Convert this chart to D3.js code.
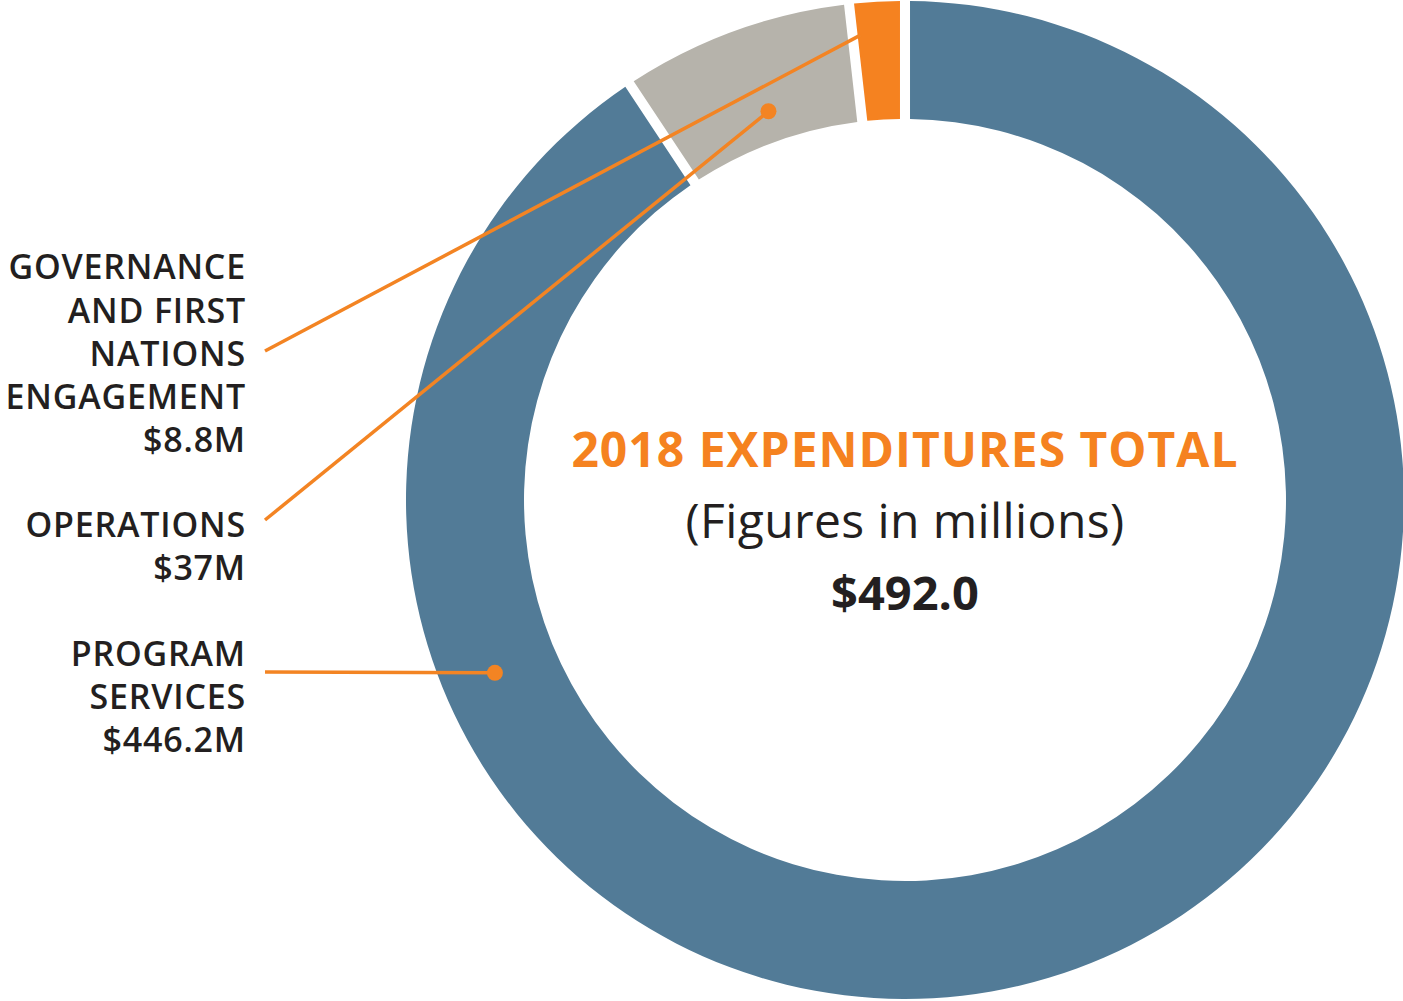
<!DOCTYPE html>
<meta charset="utf-8">
<head>
  <script src="https://d3js.org/d3.v7.min.js"></script>
  <style>
    body { margin: 0; background: #fff; font-family: "Open Sans", sans-serif; }
  </style>
</head>
<body>
<div id="my_dataviz"></div>
<script>
  // data, clockwise from 12 o'clock
  var categories = ["PROGRAM SERVICES", "OPERATIONS", "GOVERNANCE AND FIRST NATIONS ENGAGEMENT"];
  var values = [446.2, 37, 8.8];
  var colors = ["#527b97", "#b6b3ab", "#f58220"];
  var labelLines = [
    ["PROGRAM", "SERVICES", "$446.2M"],
    ["OPERATIONS", "$37M"],
    ["GOVERNANCE", "AND FIRST", "NATIONS", "ENGAGEMENT", "$8.8M"]
  ];
  var title = "2018 EXPENDITURES TOTAL";
  var subtitle = "(Figures in millions)";
  var totalLabel = "$492.0";

  var width = 1403, height = 1001;
  var cx = 905, cy = 500, outerR = 499, innerR = 381;

  var svg = d3.select("#my_dataviz")
    .append("svg")
      .attr("width", width)
      .attr("height", height);

  var g = svg.append("g")
    .attr("transform", "translate(" + cx + "," + cy + ")");

  var data = categories.map(function(c, i) { return {name: c, value: values[i], color: colors[i], lines: labelLines[i]}; });

  var pie = d3.pie()
    .sort(null)
    .value(function(d) { return d.value; });

  var arc = d3.arc()
    .innerRadius(innerR)
    .outerRadius(outerR)
    .padAngle(0.016);

  var arcs = pie(data);

  g.selectAll("path.slice")
    .data(arcs)
    .enter()
    .append("path")
      .attr("class", "slice")
      .attr("d", arc)
      .attr("fill", function(d) { return d.data.color; });

  // leader lines: anchor point on the ring (fraction along the slice, radius)
  var anchors = [
    {frac: 0.757, r: 445, labelY: 672, dot: true},
    {frac: 0.523, r: 412, labelY: 520, dot: true},
    {frac: 0.15, r: 467, labelY: 351, dot: false}
  ];
  var lineX = 265;
  var orange = "#f38423";

  arcs.forEach(function(a, i) {
    var an = anchors[i];
    var ang = a.startAngle + (a.endAngle - a.startAngle) * an.frac;
    var px = cx + an.r * Math.sin(ang);
    var py = cy - an.r * Math.cos(ang);
    svg.append("line")
      .attr("x1", lineX).attr("y1", an.labelY)
      .attr("x2", px).attr("y2", py)
      .attr("stroke", orange)
      .attr("stroke-width", 3.5);
    if (an.dot) {
      svg.append("circle")
        .attr("cx", px).attr("cy", py)
        .attr("r", 8)
        .attr("fill", orange);
    }
  });

  // labels on the left, right aligned
  var labelBaselines = [
    [666, 709, 752],
    [537, 580],
    [279, 323, 366, 409, 452]
  ];
  data.forEach(function(d, i) {
    var t = svg.append("text")
      .attr("text-anchor", "end")
      .attr("font-size", 34)
      .attr("font-weight", 600)
      .attr("letter-spacing", "0.8px")
      .attr("fill", "#231f20");
    d.lines.forEach(function(line, j) {
      t.append("tspan")
        .attr("x", 246)
        .attr("y", labelBaselines[i][j])
        .text(line);
    });
  });

  // centre text
  svg.append("text")
    .attr("x", cx).attr("y", 467)
    .attr("text-anchor", "middle")
    .attr("font-size", 48)
    .attr("font-weight", 700)
    .attr("letter-spacing", "1px")
    .attr("fill", "#f58220")
    .text(title);

  svg.append("text")
    .attr("x", cx).attr("y", 538)
    .attr("text-anchor", "middle")
    .attr("font-size", 48)
    .attr("font-weight", 400)
    .attr("letter-spacing", "0.4px")
    .attr("fill", "#231f20")
    .text(subtitle);

  svg.append("text")
    .attr("x", cx).attr("y", 610)
    .attr("text-anchor", "middle")
    .attr("font-size", 47)
    .attr("font-weight", 700)
    .attr("fill", "#231f20")
    .text(totalLabel);
</script>
</body>
